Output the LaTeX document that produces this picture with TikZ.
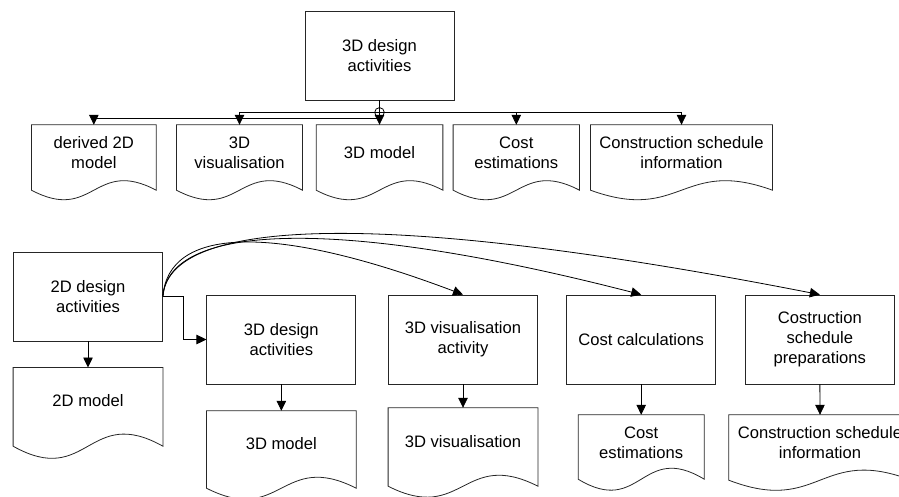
\documentclass[tikz,border=0pt]{standalone}
\usepackage{fontspec}
\setmainfont{Liberation Sans}
\usetikzlibrary{arrows.meta,calc}

\tikzset{
  labelfont/.style={font=\fontsize{16.6}{20}\selectfont},
  proc/.style={draw=black!85, line width=0.8pt, minimum width=149pt,
    minimum height=89pt, inner sep=0pt, align=center, labelfont},
  docpart/.style={minimum height=65pt, inner sep=0pt},
  doctext/.style={inner sep=0pt, align=center, labelfont},
  outline/.style={draw=black!85, line width=0.8pt, line join=miter},
  conn/.style={draw=black, line width=0.8pt, -{Triangle[length=10pt,width=9.5pt]}}
}

% document symbol: straight top and sides, wavy bottom edge
\newcommand\docwave[2]{%
  \draw[outline] (#1.south west) -- (#1.north west) -- (#1.north east)
    -- (#1.south east) .. controls ($(#1.south)+(0,-#2)$) and ($(#1.south)+(0,#2)$)
    .. (#1.south west) -- cycle;}

\begin{document}
\begin{tikzpicture}[x=1pt,y=-1pt]
\useasboundingbox (0,0) rectangle (899,496);

% ---------- upper diagram ----------
\node[proc] (A0) at (379.5,55.5) {3D design\\activities};

\node[docpart, minimum width=124.3pt] (t1) at (93.85,157.5) {};
\node[doctext] (t1t) at ($(t1.center)+(0,-4.5)$) {derived 2D\\model};
\node[docpart, minimum width=125.6pt] (t2) at (239.5,157.5) {};
\node[doctext] (t2t) at ($(t2.center)+(0,-4.5)$) {3D\\visualisation};
\node[docpart, minimum width=126.3pt] (t3) at (379.5,157.5) {};
\node[doctext] (t3t) at ($(t3.center)+(0,-4.5)$) {3D model};
\node[docpart, minimum width=126pt] (t4) at (516.3,157.5) {};
\node[doctext] (t4t) at ($(t4.center)+(0,-4.5)$) {Cost\\estimations};
\node[docpart, minimum width=181.6pt] (t5) at (681.5,157.5) {};
\node[doctext] (t5t) at ($(t5.center)+(0,-4.5)$) {Construction schedule\\information};

\docwave{t1}{33}
\docwave{t2}{33}
\docwave{t3}{33}
\docwave{t4}{33}
\docwave{t5}{33}

\draw[conn] (A0.south) -- (t3.north);
\draw[conn] (A0.south) -- ++(0,18) -| (t1.north);
\draw[conn] (A0.south) -- ++(0,12) -| (t2.north);
\draw[conn] (A0.south) -- ++(0,12) -| (t4.north);
\draw[conn] (A0.south) -- ++(0,12) -| (t5.north);
\coordinate (hop) at ($(A0.south)+(0,12)$);
\draw[line width=0.8pt] (hop) circle[radius=4.8pt];

% ---------- lower diagram ----------
\node[proc] (B1) at (88,296.5) {2D design\\activities};
\node[proc] (B2) at (281.35,339.5) {3D design\\activities};
\node[proc] (B3) at (463,339.5) {3D visualisation\\activity};
\node[proc] (B4) at (641.2,339.5) {Cost calculations};
\node[proc] (B5) at (819.85,339.5) {Costruction\\schedule\\preparations};

\node[docpart, minimum width=149.4pt, minimum height=78.3pt] (d1) at (88,406.85) {};
\node[doctext] (d1t) at ($(d1.center)+(0,-5.85)$) {2D model};
\node[docpart, minimum width=149.3pt, minimum height=77pt] (d2) at (281.35,449.5) {};
\node[doctext] (d2t) at ($(d2.center)+(0,-6.2)$) {3D model};
\node[docpart, minimum width=149.4pt, minimum height=78pt] (d3) at (463,447) {};
\node[doctext] (d3t) at ($(d3.center)+(0,-5.3)$) {3D visualisation};
\node[docpart, minimum width=125.7pt, minimum height=64pt] (d4) at (641.2,447) {};
\node[doctext] (d4t) at ($(d4.center)+(0,-4.7)$) {Cost\\estimations};
\node[docpart, minimum width=182pt, minimum height=65pt] (d5) at (820,447.5) {};
\node[doctext] (d5t) at ($(d5.center)+(0,-5.2)$) {Construction schedule\\information};

\docwave{d1}{42}
\docwave{d2}{38}
\docwave{d3}{38}
\docwave{d4}{38}
\docwave{d5}{35}

\draw[conn] (B1.south) -- (d1.north);
\draw[conn] (B2.south) -- (d2.north);
\draw[conn] (B3.south) -- (d3.north);
\draw[conn] (B4.south) -- (d4.north);
\draw[conn] (B5.south) -- (d5.north);

\draw[conn] (B1.east) -- ++(20.6,0) |- (B2.west);
\draw[conn] (B1.east) .. controls +(5.3,-68.5) and +(-193,-73) .. (B3.north);
\draw[conn] (B1.east) .. controls +(5.3,-71.5) and +(-311,-80) .. (B4.north);
\draw[conn] (B1.east) .. controls +(5.3,-74.5) and +(-460,-90) .. (B5.north);
\end{tikzpicture}
\end{document}
